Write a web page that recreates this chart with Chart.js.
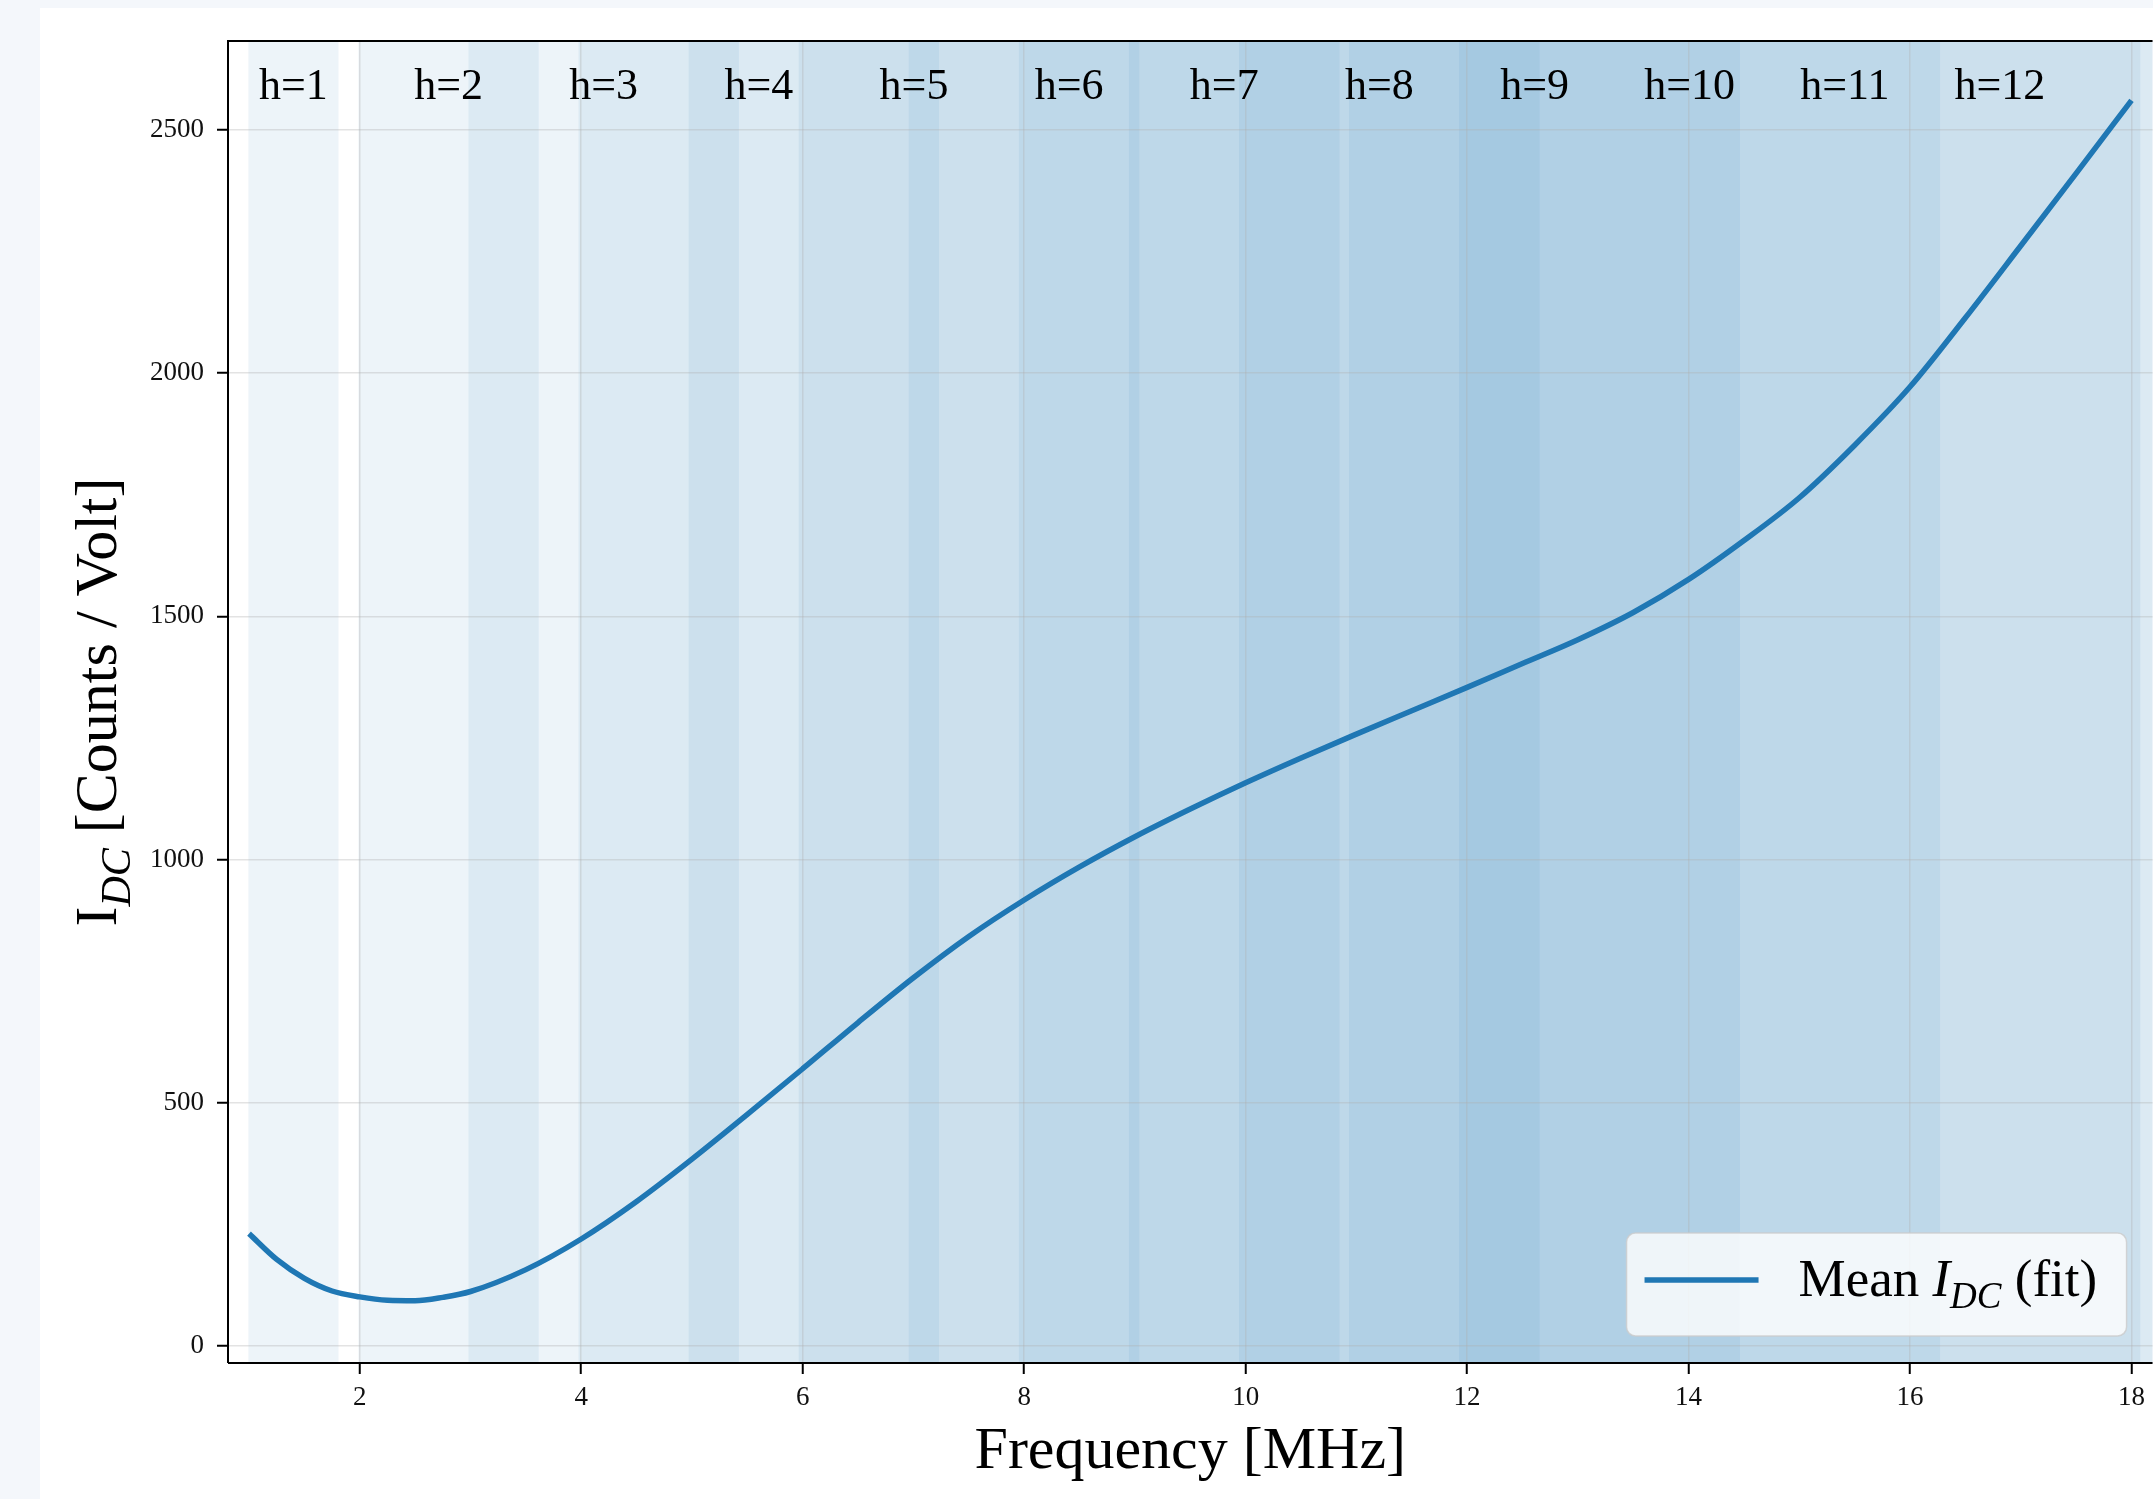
<!DOCTYPE html>
<html>
<head>
<meta charset="utf-8">
<title>Mean I_DC vs Frequency</title>
<script src="https://cdn.jsdelivr.net/npm/chart.js@4.4.0/dist/chart.umd.min.js"></script>
<style>
    html, body { margin: 0; padding: 0; background: #f4f7fb; overflow: hidden; }
    .card { position: absolute; left: 40px; top: 8px; width: 2113px; height: 1491px; background: #fff; }
    canvas { display: block; }
</style>
</head>
<body>
<div class="card"><canvas id="idcChart" width="2113" height="1491"></canvas></div>
<script>
// fitted mean DC current; finer sampling around the minimum
const freqMHz = [1.0, 1.25, 1.5, 1.75, 2.0, 2.25, 2.5, 2.75, 3.0, 3.5, 4.0, 4.5, 5.0, 5.5, 6.0, 6.5, 7.0, 7.5,
    8.0, 8.5, 9.0, 9.5, 10.0, 10.5, 11.0, 11.5, 12.0, 12.5, 13.0, 13.5, 14.0, 14.5, 15.0, 15.5, 16.0, 16.5,
    17.0, 17.5, 18.0];
const meanIdc = [231, 178, 139, 113, 101, 94, 93, 100, 112, 157, 220, 297, 384, 476, 570, 665, 757, 842,
    917, 985, 1047, 1104, 1158, 1209, 1258, 1306, 1354, 1403, 1452, 1508, 1576, 1656, 1744, 1852, 1972, 2114,
    2262, 2411, 2561];

// harmonic windows (MHz) and where their labels sit
const harmonics = [1, 2, 3, 4, 5, 6, 7, 8, 9, 10, 11, 12];
const bandStart = [0.994, 1.988, 2.982, 3.976, 4.970, 5.964, 6.958, 7.952, 8.946, 9.940, 10.934, 11.928];
const bandEnd = [1.808, 3.616, 5.424, 7.232, 9.040, 10.848, 12.656, 14.464, 16.272, 18.080, 19.888, 21.696];
const harmonicLabelX = [1.401, 2.802, 4.203, 5.604, 7.005, 8.406, 9.807, 11.208, 12.609, 14.010, 15.411, 16.812];

const xTicks = [2, 4, 6, 8, 10, 12, 14, 16, 18];
const yTicks = [0, 500, 1000, 1500, 2000, 2500];
const xRange = [0.81, 18.19];
const yRange = [-35, 2683];

const SERIF = '"Liberation Serif", "Times New Roman", serif';
const LINE_BLUE = '#1f77b4';

// draws a run of text pieces with their own font and vertical shift
function drawRuns(ctx, runs, x, y, align) {
    let total = 0;
    runs.forEach(r => { ctx.font = r.font; total += ctx.measureText(r.text).width; });
    let cx = align === 'center' ? x - total / 2 : x;
    ctx.textAlign = 'left';
    ctx.textBaseline = 'alphabetic';
    runs.forEach(r => {
        ctx.font = r.font;
        ctx.fillText(r.text, cx, y + (r.dy || 0));
        cx += ctx.measureText(r.text).width;
    });
}

const harmonicBands = {
    id: 'harmonicBands',
    beforeDraw(chart) {
        const { ctx, chartArea, scales } = chart;
        ctx.save();
        ctx.beginPath();
        ctx.rect(chartArea.left, chartArea.top, chartArea.width, chartArea.height);
        ctx.clip();
        ctx.fillStyle = 'rgba(31, 119, 180, 0.08)';
        harmonics.forEach((h, i) => {
            const x0 = scales.x.getPixelForValue(bandStart[i]);
            const x1 = scales.x.getPixelForValue(bandEnd[i]);
            ctx.fillRect(x0, chartArea.top, x1 - x0, chartArea.height);
        });
        ctx.restore();
    }
};

const overlay = {
    id: 'overlay',
    afterDatasetsDraw(chart) {
        const { ctx, chartArea: ca, scales } = chart;
        ctx.save();

        // harmonic labels along the top
        ctx.fillStyle = '#000';
        ctx.font = '44px ' + SERIF;
        ctx.textAlign = 'center';
        ctx.textBaseline = 'alphabetic';
        harmonics.forEach((h, i) => {
            ctx.fillText('h=' + h, scales.x.getPixelForValue(harmonicLabelX[i]), ca.top + 58);
        });

        // spines: left, top, bottom
        ctx.strokeStyle = '#000';
        ctx.lineWidth = 2;
        ctx.beginPath();
        ctx.moveTo(ca.left, ca.bottom);
        ctx.lineTo(ca.left, ca.top);
        ctx.lineTo(ca.right, ca.top);
        ctx.moveTo(ca.left, ca.bottom);
        ctx.lineTo(ca.right, ca.bottom);
        ctx.stroke();

        // legend, lower right
        const ds = chart.data.datasets[0];
        const bw = 500, bh = 103;
        const bx = ca.right - 26 - bw, by = ca.bottom - 27 - bh;
        ctx.beginPath();
        ctx.roundRect(bx, by, bw, bh, 9);
        ctx.fillStyle = 'rgba(255, 255, 255, 0.8)';
        ctx.fill();
        ctx.strokeStyle = 'rgba(204, 204, 204, 0.8)';
        ctx.lineWidth = 1.5;
        ctx.stroke();
        ctx.strokeStyle = ds.borderColor;
        ctx.lineWidth = ds.borderWidth;
        ctx.beginPath();
        ctx.moveTo(bx + 18, by + 47);
        ctx.lineTo(bx + 132, by + 47);
        ctx.stroke();
        ctx.fillStyle = '#000';
        drawRuns(ctx, [
            { text: 'Mean ', font: '53px ' + SERIF },
            { text: 'I', font: 'italic 53px ' + SERIF },
            { text: 'DC', font: 'italic 37px ' + SERIF, dy: 12 },
            { text: ' (fit)', font: '53px ' + SERIF }
        ], bx + 172, by + 63, 'left');

        // axis titles
        drawRuns(ctx, [{ text: 'Frequency [MHz]', font: '60px ' + SERIF }],
            (ca.left + ca.right) / 2, 1460, 'center');

        ctx.translate(76, (ca.top + ca.bottom) / 2);
        ctx.rotate(-Math.PI / 2);
        drawRuns(ctx, [
            { text: 'I', font: '60px ' + SERIF },
            { text: 'DC', font: 'italic 42px ' + SERIF, dy: 14 },
            { text: ' [Counts / Volt]', font: '60px ' + SERIF }
        ], 0, 0, 'center');

        ctx.restore();
    }
};

const tickFont = { family: SERIF, size: 27 };
const gridStyle = {
    color: 'rgba(176, 176, 176, 0.35)',
    lineWidth: 1.5,
    tickColor: '#000',
    tickWidth: 2,
    tickLength: 11
};

new Chart(document.getElementById('idcChart'), {
    type: 'line',
    data: {
        datasets: [{
            label: 'Mean I_DC (fit)',
            data: freqMHz.map((f, i) => ({ x: f, y: meanIdc[i] })),
            borderColor: LINE_BLUE,
            borderWidth: 5.5,
            pointRadius: 0,
            cubicInterpolationMode: 'monotone',
            fill: false
        }]
    },
    options: {
        responsive: false,
        animation: false,
        devicePixelRatio: 1,
        layout: { padding: { left: 0, top: 33, right: 0, bottom: 0 } },
        plugins: {
            legend: { display: false },
            tooltip: { enabled: false }
        },
        scales: {
            x: {
                type: 'linear',
                min: xRange[0],
                max: xRange[1],
                border: { display: false },
                grid: gridStyle,
                ticks: { font: tickFont, color: '#111', padding: 8, maxRotation: 0, callback: v => String(v) },
                afterBuildTicks: s => { s.ticks = xTicks.map(v => ({ value: v })); },
                afterFit: s => { s.height = 136; }
            },
            y: {
                type: 'linear',
                min: yRange[0],
                max: yRange[1],
                border: { display: false },
                grid: gridStyle,
                ticks: { font: tickFont, color: '#111', padding: 13, callback: v => String(v) },
                afterBuildTicks: s => { s.ticks = yTicks.map(v => ({ value: v })); },
                afterFit: s => { s.width = 188; }
            }
        }
    },
    plugins: [harmonicBands, overlay]
});
</script>
</body>
</html>
